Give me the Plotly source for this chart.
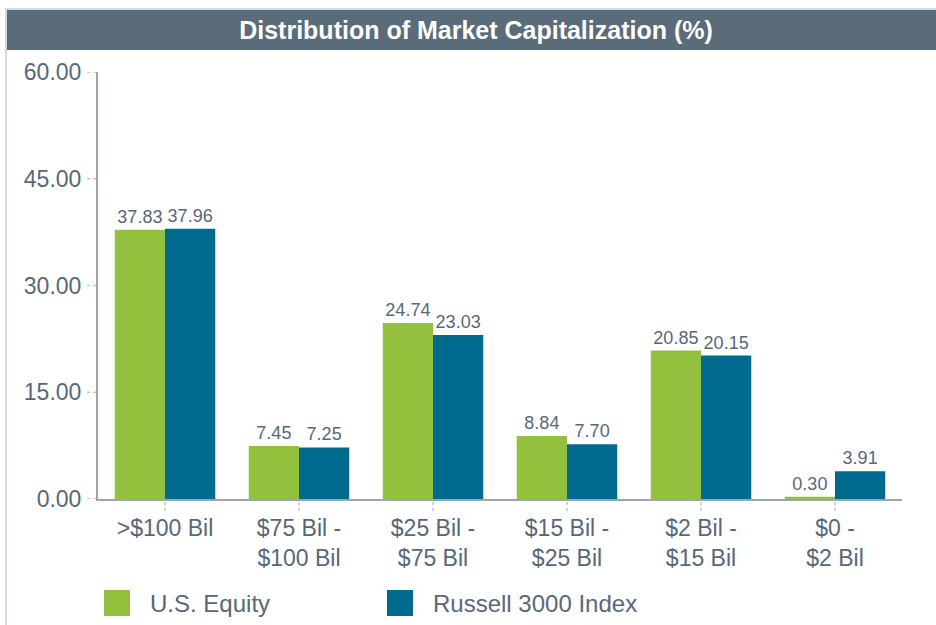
import plotly.graph_objs as go

# values
categories = [">$100 Bil", "$75 Bil -<br>$100 Bil", "$25 Bil -<br>$75 Bil",
              "$15 Bil -<br>$25 Bil", "$2 Bil -<br>$15 Bil", "$0 -<br>$2 Bil"]
us_equity = [37.83, 7.45, 24.74, 8.84, 20.85, 0.30]
russell_3000 = [37.96, 7.25, 23.03, 7.70, 20.15, 3.91]
y_ticks = [0, 15, 30, 45, 60]
series_names = ["U.S. Equity", "Russell 3000 Index"]
series_colors = ["#93c13e", "#006a8f"]

TEXT = "#56687a"
FONT = "Liberation Sans, Arial, sans-serif"
W, H = 936, 625
L, R, T, B = 98, 34, 72, 126
PW, PH = W - L - R, H - T - B


def px_x(x):
    # pixel -> paper x
    return (x - L) / PW


def px_y(y):
    # pixel -> paper y
    return (H - B - y) / PH


fig = go.Figure()
for name, vals, col in zip(series_names, [us_equity, russell_3000], series_colors):
    fig.add_trace(go.Bar(x=categories, y=vals, name=name, marker_color=col,
                         marker_line_width=0,
                         text=[f"{v:.2f}" for v in vals], textposition="outside",
                         textfont=dict(size=18, color=TEXT, family=FONT),
                         constraintext="none", cliponaxis=False,
                         showlegend=False))

shapes = [
    # frame lines and title band
    dict(type="line", xref="paper", yref="paper", x0=px_x(6), x1=px_x(6),
         y0=px_y(8), y1=px_y(625), line=dict(color="#d3d9e0", width=2)),
    dict(type="line", xref="paper", yref="paper", x0=px_x(5), x1=px_x(936),
         y0=px_y(9), y1=px_y(9), line=dict(color="#d3d9e0", width=2)),
    dict(type="rect", xref="paper", yref="paper", x0=px_x(7), x1=px_x(936),
         y0=px_y(10), y1=px_y(50), fillcolor="#5a6b7a", line_width=0),
]
# dotted tick marks
for t in y_ticks:
    shapes.append(dict(type="line", xref="paper", yref="y", x0=px_x(87), x1=px_x(96),
                       y0=t, y1=t, line=dict(color="#bfc4c9", width=1.5, dash="dot")))
for c in categories:
    shapes.append(dict(type="line", xref="x", yref="paper", x0=c, x1=c,
                       y0=px_y(502), y1=px_y(513),
                       line=dict(color="#bfc4c9", width=1.5, dash="dot")))

# legend drawn by hand so the swatches are large like the original
annotations = []
for name, col, sx in zip(series_names, series_colors, [104, 387]):
    shapes.append(dict(type="rect", xref="paper", yref="paper",
                       x0=px_x(sx), x1=px_x(sx + 26), y0=px_y(590), y1=px_y(616),
                       fillcolor=col, line_width=0))
    annotations.append(dict(text=name, xref="paper", yref="paper", x=px_x(sx + 44),
                            y=px_y(603), xanchor="left", yanchor="middle",
                            showarrow=False,
                            font=dict(size=24, color=TEXT, family=FONT)))

fig.update_layout(
    width=W, height=H,
    margin=dict(l=L, r=R, t=T, b=B),
    paper_bgcolor="white", plot_bgcolor="white",
    barmode="group", bargap=0.25, bargroupgap=0,
    title=dict(text="<b>Distribution of Market Capitalization (%)</b>",
               x=476 / W, xanchor="center", y=1 - 30 / H, yanchor="middle",
               font=dict(size=25, color="white", family=FONT)),
    shapes=shapes, annotations=annotations,
    font=dict(family=FONT, color=TEXT),
)
fig.update_yaxes(range=[0, 60], tickvals=y_ticks, tickformat=".2f",
                 showgrid=False, zeroline=False, showline=True,
                 linecolor="#9aa6b2", linewidth=2, ticks="",
                 ticklabelstandoff=10,
                 tickfont=dict(size=23, color=TEXT, family=FONT))
fig.update_xaxes(showgrid=False, showline=True, linecolor="#9aa6b2", linewidth=2,
                 ticks="", ticklabelstandoff=7,
                 tickfont=dict(size=23, color=TEXT, family=FONT))

# drop the browser's default body margin so the figure sits at the window corner
fig.write_html("out.html", config={"displayModeBar": False},
               post_script="document.body.style.margin='0';")
